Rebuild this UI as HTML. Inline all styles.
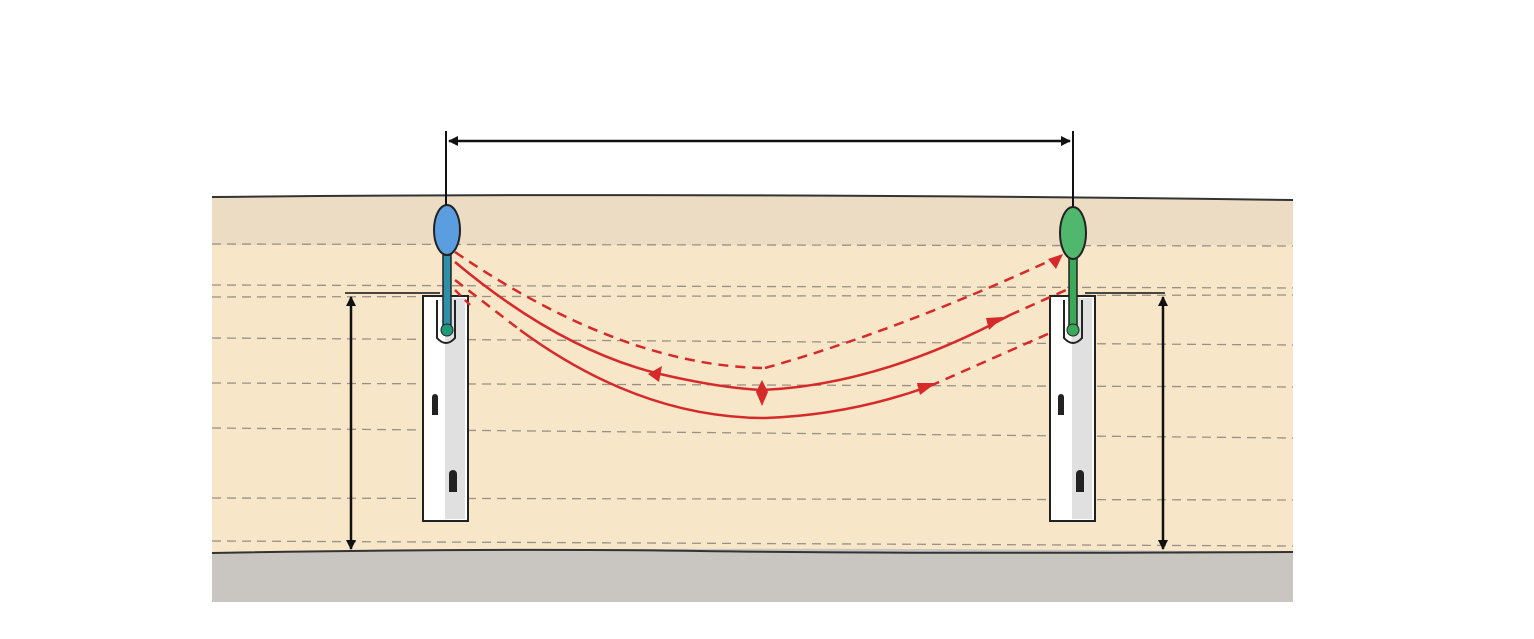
<!DOCTYPE html>
<html><head><meta charset="utf-8"><style>html,body{margin:0;padding:0;background:#fff}svg{display:block}</style></head>
<body>
<svg width="1534" height="639" viewBox="0 0 1534 639" xmlns="http://www.w3.org/2000/svg">
<defs>
<marker id="ah" markerWidth="10" markerHeight="10" refX="9" refY="5" orient="auto-start-reverse" markerUnits="userSpaceOnUse"><path d="M0,0 L10,5 L0,10 z" fill="#111"/></marker>
</defs>
<rect width="1534" height="639" fill="#fff"/>
<path d="M212,197 Q700,192 1293,200 L1293,245 L212,245 z" fill="#ecdcc3"/>
<rect x="212" y="245" width="1081" height="308" fill="#f8e6c8"/>
<path d="M212,553 Q700,545 1293,552 L1293,602 L212,602 z" fill="#c9c6c2"/>
<path d="M212,197 Q700,192 1293,200" fill="none" stroke="#333" stroke-width="2"/>
<path d="M212,553 Q500,548 700,551 T1293,552" fill="none" stroke="#333" stroke-width="2"/>
<g stroke="#9a9088" stroke-width="1.3" stroke-dasharray="9,6" fill="none">
<line x1="212" y1="244" x2="1293" y2="246"/>
<line x1="212" y1="285" x2="1293" y2="288"/>
<line x1="212" y1="297" x2="1293" y2="295"/>
<line x1="212" y1="338" x2="1293" y2="345"/>
<line x1="212" y1="383" x2="1293" y2="387"/>
<line x1="212" y1="428" x2="1293" y2="438"/>
<line x1="212" y1="498" x2="1293" y2="500"/>
<line x1="212" y1="541" x2="1293" y2="546"/>
</g>
<line x1="446" y1="131" x2="446" y2="208" stroke="#111" stroke-width="2"/>
<line x1="1073" y1="131" x2="1073" y2="208" stroke="#111" stroke-width="2"/>
<line x1="449" y1="141" x2="1070" y2="141" stroke="#111" stroke-width="2.5" marker-start="url(#ah)" marker-end="url(#ah)"/>
<line x1="345" y1="293" x2="440" y2="293" stroke="#111" stroke-width="1.5"/>
<line x1="351" y1="297" x2="351" y2="549" stroke="#111" stroke-width="2.5" marker-start="url(#ah)" marker-end="url(#ah)"/>
<line x1="1085" y1="293" x2="1165" y2="293" stroke="#111" stroke-width="1.5"/>
<line x1="1163" y1="297" x2="1163" y2="549" stroke="#111" stroke-width="2.5" marker-start="url(#ah)" marker-end="url(#ah)"/>
<rect x="423" y="296" width="45" height="225" fill="#fff" stroke="#222" stroke-width="2"/>
<rect x="445" y="298" width="20" height="221" fill="#e0e0e0"/>
<rect x="1050" y="296" width="45" height="225" fill="#fff" stroke="#222" stroke-width="2"/>
<rect x="1072" y="298" width="20" height="221" fill="#e0e0e0"/>
<path d="M437,300 L437,338 Q446,348 455,338 L455,300" fill="none" stroke="#222" stroke-width="2"/>
<path d="M1064,300 L1064,338 Q1073,348 1082,338 L1082,300" fill="none" stroke="#222" stroke-width="2"/>
<path d="M432,415 v-18 a3,3 0 0 1 6,0 v18 z" fill="#222"/>
<path d="M449,492 v-18 a4,4 0 0 1 8,0 v18 z" fill="#222"/>
<path d="M1058,415 v-18 a3,3 0 0 1 6,0 v18 z" fill="#222"/>
<path d="M1076,492 v-18 a4,4 0 0 1 8,0 v18 z" fill="#222"/>
<g fill="none" stroke="#d62a2a" stroke-width="2.5">
<path d="M455,252 Q620,365 762,368" stroke-dasharray="10,7"/>
<path d="M765,368 Q900,330 1058,257" stroke-dasharray="10,7"/>
<path d="M455,262 Q560,350 660,374 Q720,388 762,390 Q880,385 1010,315"/>
<path d="M1010,315 L1066,290" stroke-dasharray="10,7"/>
<path d="M455,280 L520,330" stroke-dasharray="10,7"/>
<path d="M520,330 Q640,418 765,418 Q850,415 930,386"/>
<path d="M930,386 L1050,333" stroke-dasharray="10,7"/>
<path d="M455,290 L470,305" stroke-dasharray="8,6"/>
</g>
<path d="M648,374 l14,-8 l-3,16 z" fill="#d62a2a"/>
<path d="M762,380 l6,12 l-6,14 l-6,-14 z" fill="#d62a2a"/>
<path d="M1003,317 l-14,13 l-3,-12 z" fill="#d62a2a"/>
<path d="M936,383 l-16,12 l-3,-12 z" fill="#d62a2a"/>
<path d="M1063,254 l-15,5 l8,10 z" fill="#d62a2a"/>
<rect x="443" y="255" width="8" height="75" fill="#2f8fa8" stroke="#222" stroke-width="1.5"/>
<circle cx="447" cy="330" r="6" fill="#1f9a78" stroke="#222" stroke-width="1"/>
<ellipse cx="447" cy="230" rx="13" ry="25" fill="#5a9ee0" stroke="#222" stroke-width="2"/>
<rect x="1069" y="255" width="8" height="75" fill="#3aaa5a" stroke="#222" stroke-width="1.5"/>
<circle cx="1073" cy="330" r="6" fill="#3aaa5a" stroke="#222" stroke-width="1"/>
<ellipse cx="1073" cy="233" rx="13" ry="26" fill="#4fb86c" stroke="#222" stroke-width="2"/>
</svg>
</body></html>
